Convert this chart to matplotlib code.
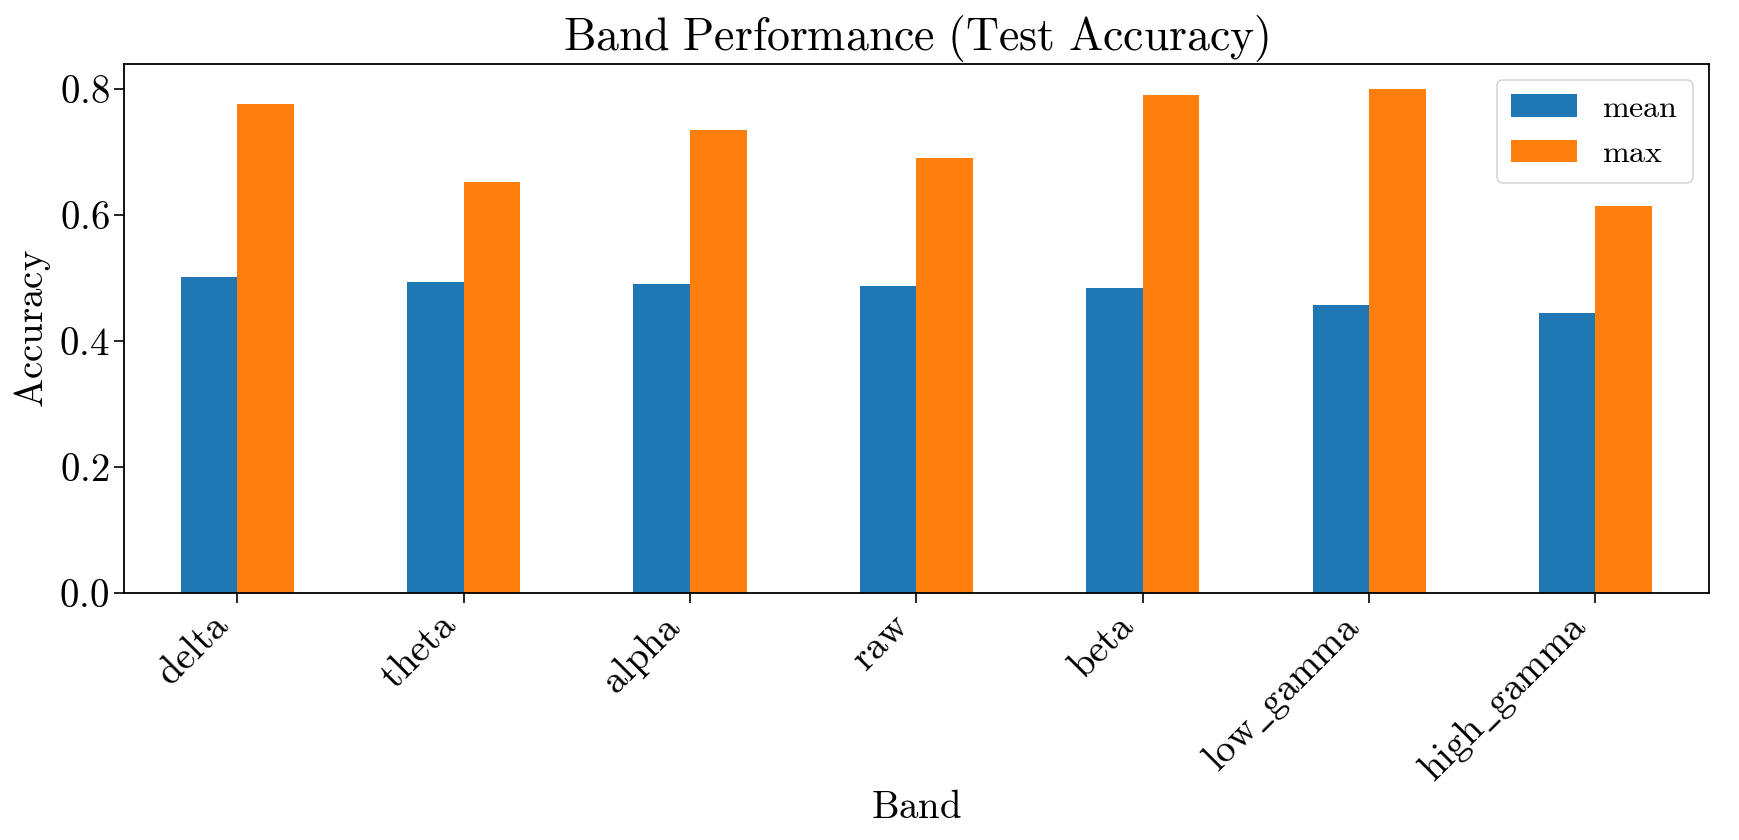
import matplotlib
matplotlib.use("Agg")
import matplotlib.pyplot as plt
import numpy as np

bands = ["delta", "theta", "alpha", "raw", "beta", "low_gamma", "high_gamma"]
mean_acc = [0.502, 0.493, 0.491, 0.487, 0.484, 0.457, 0.445]
max_acc = [0.777, 0.652, 0.735, 0.690, 0.791, 0.800, 0.615]
series_names = ["mean", "max"]
colors = ["#1f77b4", "#ff7f0e"]

plt.rcParams["font.family"] = "serif"
plt.rcParams["font.serif"] = ["cmr10"]
plt.rcParams["mathtext.fontset"] = "cm"
plt.rcParams["axes.formatter.use_mathtext"] = True
plt.rcParams["axes.unicode_minus"] = False

def tex(s):
    return r"$\mathrm{" + s.replace("_", r"\_") + "}$"

fig = plt.figure(figsize=(17.4, 8.4), dpi=100)
ax = fig.add_axes([0.0713, 0.294, 0.982 - 0.0713, 0.924 - 0.294])

x = np.arange(len(bands))
w = 0.25
ax.bar(x - w / 2, mean_acc, w, color=colors[0], label=tex(series_names[0]))
ax.bar(x + w / 2, max_acc, w, color=colors[1], label=tex(series_names[1]))

ax.set_xlim(-0.5, len(bands) - 0.5)
ax.set_ylim(0, max(max_acc) * 1.05)
ax.set_xticks(x)
ax.set_xticklabels([tex(b) for b in bands], rotation=45, ha="right",
                   rotation_mode="default", fontsize=28)
ax.set_yticks([0.0, 0.2, 0.4, 0.6, 0.8])
ax.set_yticklabels([tex(f"{v:.1f}") for v in [0.0, 0.2, 0.4, 0.6, 0.8]], fontsize=28)
ax.tick_params(axis="both", length=7, width=1.2)
for s in ax.spines.values():
    s.set_linewidth(1.3)

ax.set_xlabel(tex("Band"), fontsize=28, labelpad=0)
ax.set_ylabel(tex("Accuracy"), fontsize=28)
ax.set_title(tex(r"Band\ Performance\ (Test\ Accuracy)"), fontsize=33)

leg = ax.legend(loc="upper right", fontsize=23, handlelength=2.05, borderpad=0.45,
                labelspacing=0.55, handletextpad=0.8)
leg.get_frame().set_linewidth(1.2)

fig.savefig("out.png", dpi=100)
